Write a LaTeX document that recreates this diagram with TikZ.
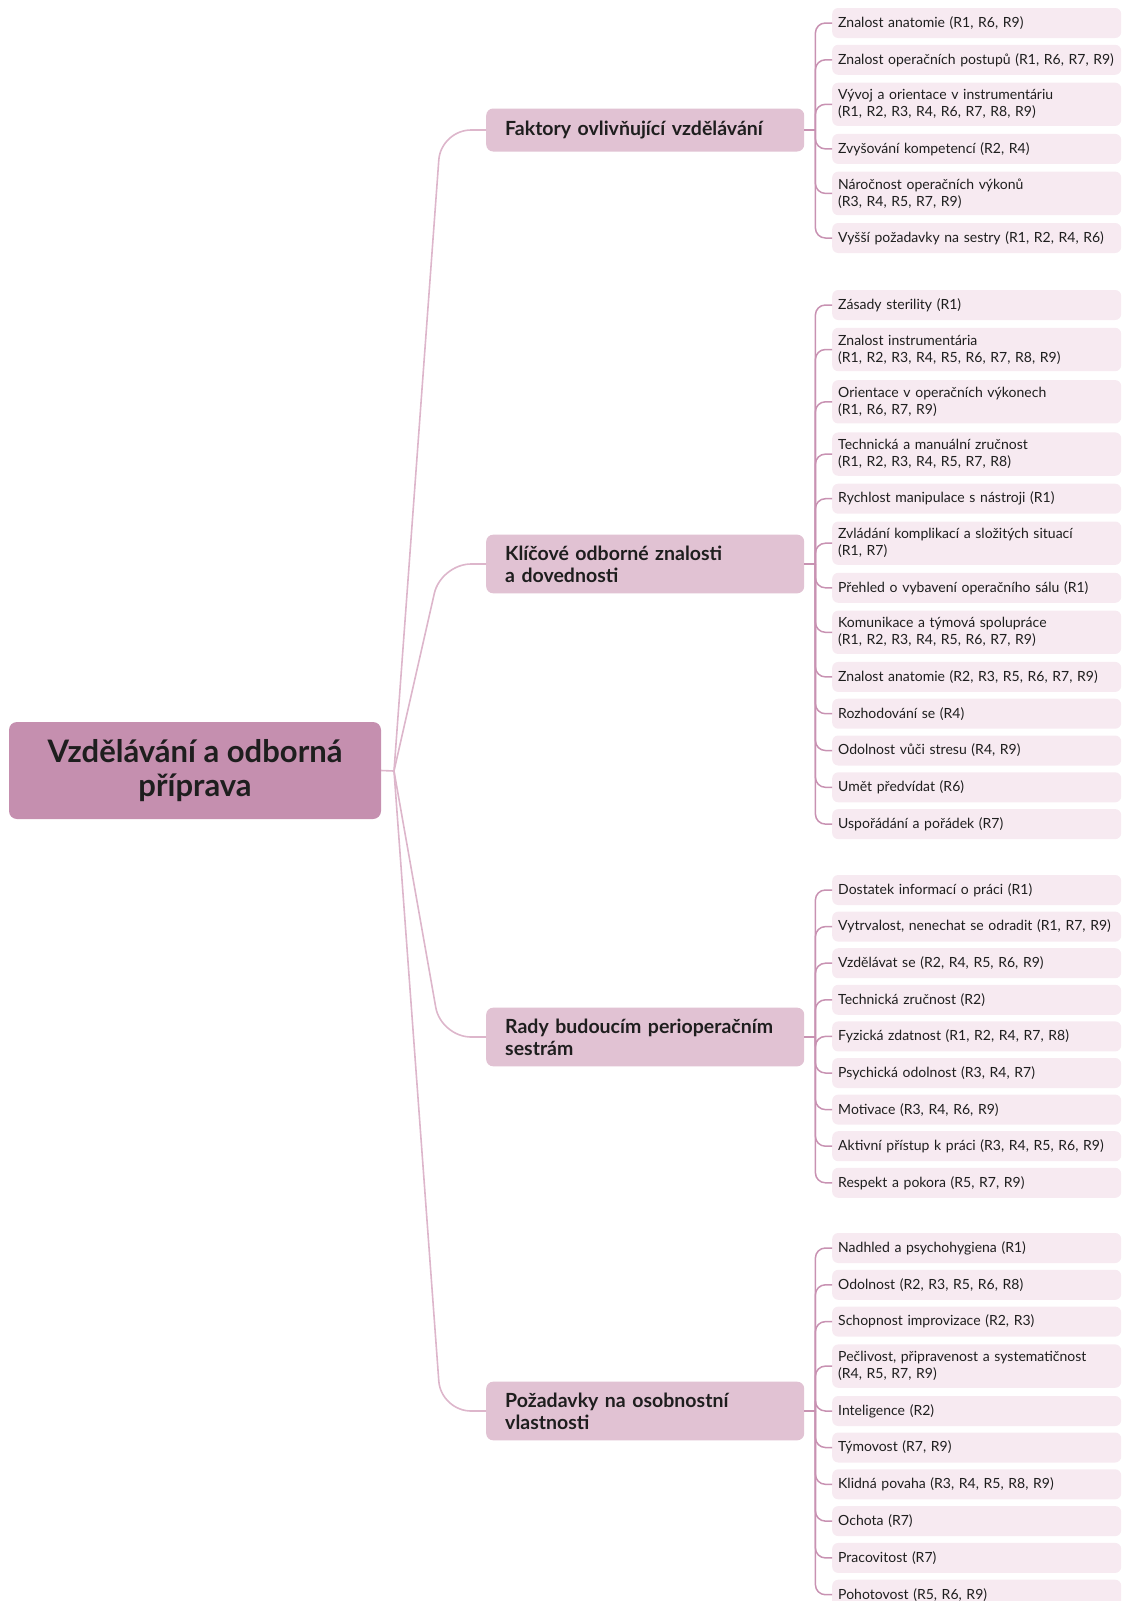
\documentclass[tikz,border=0pt]{standalone}
\usepackage{fontspec}
\setmainfont{Lato}
\definecolor{rootpink}{HTML}{C58FAF}
\definecolor{branchpink}{HTML}{E1C2D3}
\definecolor{leafpink}{HTML}{F7EAF1}
\definecolor{trunkpink}{HTML}{DDB6CB}
\definecolor{spinepink}{HTML}{C892B2}
\definecolor{inkgrey}{HTML}{1E1E1E}

\begin{document}
\begin{tikzpicture}[x=1pt, y=-1pt,
  rootbox/.style={fill=rootpink, rounded corners=8pt, minimum width=372pt, minimum height=97pt, align=center, text=inkgrey, font=\fontsize{31}{34}\selectfont\bfseries},
  branch/.style={fill=branchpink, rounded corners=7pt, anchor=west, text width=280pt, inner xsep=19pt, inner ysep=11pt, minimum height=43pt, align=left, text=inkgrey, font=\fontsize{19.5}{22}\selectfont\bfseries},
  leaf/.style={fill=leafpink, rounded corners=6pt, anchor=west, text width=277pt, inner xsep=6pt, inner ysep=7pt, minimum height=30pt, align=left, text=inkgrey, font=\fontsize{14}{17}\selectfont},
  trunk/.style={draw=trunkpink, line width=1.6pt},
  spine/.style={draw=spinepink, line width=1.5pt}]
\useasboundingbox (0,0) rectangle (1122,1601);

\node[rootbox] (root) at (195,770.5) {Vzdělávání a odborná\\příprava};

\node[branch] (fak) at (486,130) {Faktory ovlivňující vzdělávání};
\node[branch] (klic) at (486,564) {Klíčové odborné znalosti\\a dovednosti};
\node[branch] (rady) at (486,1037) {Rady budoucím perioperačním\\sestrám};
\node[branch] (poz) at (486,1411) {Požadavky na osobnostní\\vlastnosti};

\coordinate (fan) at (394,771);
\draw[trunk] (root.east) -- (fan);
\foreach \b in {fak,klic,rady,poz}
  \draw[trunk, rounded corners=30pt] (fan) -- ([xshift=-45pt]\b.west) -- (\b.west);

\foreach \b in {fak,klic,rady,poz}
  \draw[spine, line width=2pt] (\b.east) -- ++(11,0) coordinate (s\b);

\foreach \n/\y/\t in {1/23/{Znalost anatomie (R1, R6, R9)},
    2/59.8/{Znalost operačních postupů (R1, R6, R7, R9)},
    3/104.3/{Vývoj a orientace v instrumentáriu\\(R1, R2, R3, R4, R6, R7, R8, R9)},
    4/148.9/{Zvyšování kompetencí (R2, R4)},
    5/193.4/{Náročnost operačních výkonů\\(R3, R4, R5, R7, R9)},
    6/238/{Vyšší požadavky na sestry (R1, R2, R4, R6)}} {
  \node[leaf] (fak\n) at (832,\y) {\t};
  \draw[spine, rounded corners=10pt] (sfak) |- (fak\n.west);
}

\foreach \n/\y/\t in {1/305/{Zásady sterility (R1)},
    2/349.5/{Znalost instrumentária\\(R1, R2, R3, R4, R5, R6, R7, R8, R9)},
    3/401.8/{Orientace v operačních výkonech\\(R1, R6, R7, R9)},
    4/454.1/{Technická a manuální zručnost\\(R1, R2, R3, R4, R5, R7, R8)},
    5/498.7/{Rychlost manipulace s nástroji (R1)},
    6/543.2/{Zvládání komplikací a složitých situací\\(R1, R7)},
    7/587.8/{Přehled o vybavení operačního sálu (R1)},
    8/632.3/{Komunikace a týmová spolupráce\\(R1, R2, R3, R4, R5, R6, R7, R9)},
    9/676.9/{Znalost anatomie (R2, R3, R5, R6, R7, R9)},
    10/713.7/{Rozhodování se (R4)},
    11/750.5/{Odolnost vůči stresu (R4, R9)},
    12/787.3/{Umět předvídat (R6)},
    13/824.1/{Uspořádání a pořádek (R7)}} {
  \node[leaf] (klic\n) at (832,\y) {\t};
  \draw[spine, rounded corners=10pt] (sklic) |- (klic\n.west);
}

\foreach \n/\y/\t in {1/890/{Dostatek informací o práci (R1)},
    2/926.6/{Vytrvalost, nenechat se odradit (R1, R7, R9)},
    3/963.2/{Vzdělávat se (R2, R4, R5, R6, R9)},
    4/999.8/{Technická zručnost (R2)},
    5/1036.4/{Fyzická zdatnost (R1, R2, R4, R7, R8)},
    6/1073/{Psychická odolnost (R3, R4, R7)},
    7/1109.6/{Motivace (R3, R4, R6, R9)},
    8/1146.2/{Aktivní přístup k práci (R3, R4, R5, R6, R9)},
    9/1182.8/{Respekt a pokora (R5, R7, R9)}} {
  \node[leaf] (rady\n) at (832,\y) {\t};
  \draw[spine, rounded corners=10pt] (srady) |- (rady\n.west);
}

\foreach \n/\y/\t in {1/1248/{Nadhled a psychohygiena (R1)},
    2/1284.8/{Odolnost (R2, R3, R5, R6, R8)},
    3/1321.6/{Schopnost improvizace (R2, R3)},
    4/1366.1/{Pečlivost, připravenost a systematičnost\\(R4, R5, R7, R9)},
    5/1411/{Inteligence (R2)},
    6/1447.5/{Týmovost (R7, R9)},
    7/1484.3/{Klidná povaha (R3, R4, R5, R8, R9)},
    8/1521.1/{Ochota (R7)},
    9/1557.9/{Pracovitost (R7)},
    10/1594.7/{Pohotovost (R5, R6, R9)}} {
  \node[leaf] (poz\n) at (832,\y) {\t};
  \draw[spine, rounded corners=10pt] (spoz) |- (poz\n.west);
}
\end{tikzpicture}
\end{document}
